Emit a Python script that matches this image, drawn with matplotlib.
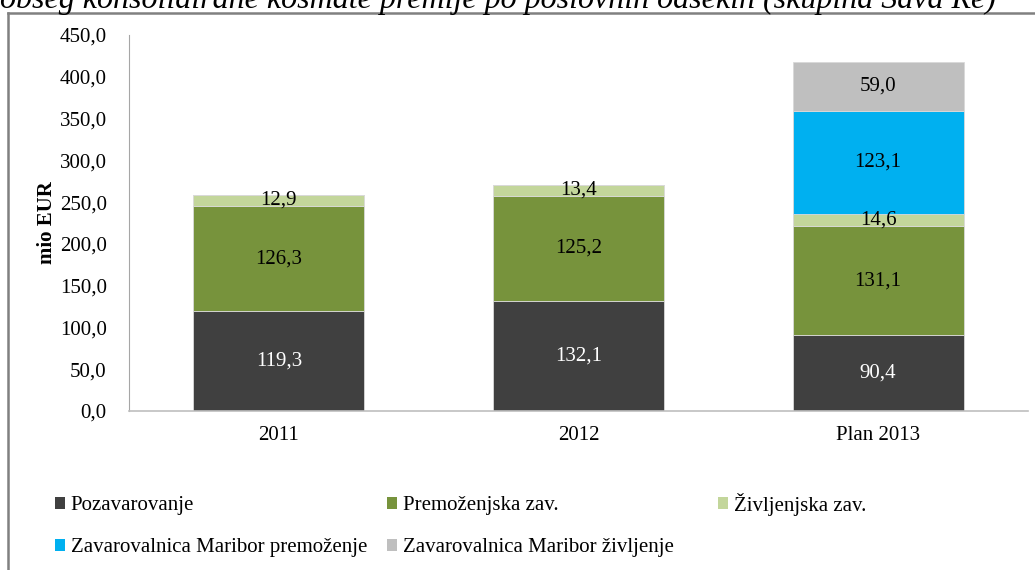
import matplotlib.pyplot as plt
from matplotlib.patches import Patch
from matplotlib.lines import Line2D
import numpy as np

plt.rcParams['font.family'] = ['Liberation Serif', 'DejaVu Serif']

categories = ["2011", "2012", "Plan 2013"]
series_names = ["Pozavarovanje", "Premoženjska zav.", "Življenjska zav.",
                "Zavarovalnica Maribor premoženje", "Zavarovalnica Maribor življenje"]
pozavarovanje = [119.3, 132.1, 90.4]
premozenjska = [126.3, 125.2, 131.1]
zivljenjska = [12.9, 13.4, 14.6]
zm_premozenje = [0.0, 0.0, 123.1]
zm_zivljenje = [0.0, 0.0, 59.0]
colors = ["#404040", "#77933C", "#C3D69B", "#00B0F0", "#BFBFBF"]
label_colors = ["white", "black", "black", "black", "black"]
title = "obseg konsolidirane kosmate premije po poslovnih odsekih (skupina Sava Re)"

series = [pozavarovanje, premozenjska, zivljenjska, zm_premozenje, zm_zivljenje]
FS = 15

fig = plt.figure(figsize=(10.35, 5.7), dpi=100)
ax = fig.add_axes([129 / 1035, 1 - 411 / 570, 899 / 1035, 376 / 570])

x = np.arange(len(categories))
bottom = np.zeros(len(categories))
handles = []
for vals, name, col, lc in zip(series, series_names, colors, label_colors):
    vals = np.array(vals)
    ax.bar(x, vals, width=0.57, bottom=bottom, color=col,
           edgecolor="#D9D9D9", linewidth=0.6)
    for xi, v, b in zip(x, vals, bottom):
        if v > 0:
            ax.text(xi, b + v / 2, f"{v:.1f}".replace(".", ","), ha="center",
                    va="center", fontsize=FS, color=lc)
    bottom = bottom + vals
    handles.append(Patch(facecolor=col, edgecolor="none"))

ax.set_xlim(-0.5, len(categories) - 0.5)
ax.set_ylim(0, 450)
ax.set_yticks(np.arange(0, 451, 50))
ax.set_yticklabels([f"{v:.1f}".replace(".", ",") for v in np.arange(0, 451, 50)])
ax.set_xticks(x)
ax.set_xticklabels(categories)
ax.tick_params(axis="y", length=0, pad=16, labelsize=FS)
ax.tick_params(axis="x", length=0, pad=11, labelsize=FS)
for s in ["top", "right"]:
    ax.spines[s].set_visible(False)
ax.spines["left"].set_color("#A6A6A6")
ax.spines["bottom"].set_color("#BFBFBF")
ax.spines["left"].set_linewidth(0.8)
ax.spines["bottom"].set_linewidth(1.2)
ax.set_ylabel("mio EUR", fontsize=FS, fontweight="bold")
ax.yaxis.set_label_coords(-72 / 899, 0.5)

# legend columns (Word-style fixed column positions)
cols = [[0, 3], [1, 4], [2]]
xs = [55, 387, 718]
ys = [526.5, 526.5, 504]
for idx, xp, yp in zip(cols, xs, ys):
    fig.legend([handles[i] for i in idx], [series_names[i] for i in idx],
               loc="center left", bbox_to_anchor=(xp / 1035, 1 - yp / 570),
               frameon=False, fontsize=FS, handlelength=0.5, handleheight=0.5,
               handletextpad=0.25, labelspacing=1.1, borderaxespad=0, borderpad=0)

# outer frame
fig.add_artist(Line2D([8 / 1035, 1.0], [1 - 12.5 / 570] * 2, color="#808080", lw=1.8))
fig.add_artist(Line2D([8 / 1035] * 2, [0, 1 - 12.5 / 570], color="#808080", lw=1.8))

# title is clipped at the top edge, as in the source image
fig.text(498 / 1035, 1 - 8 / 570, title, ha="center", va="baseline",
         fontsize=23, style="italic")

fig.savefig("out.png", dpi=100)
